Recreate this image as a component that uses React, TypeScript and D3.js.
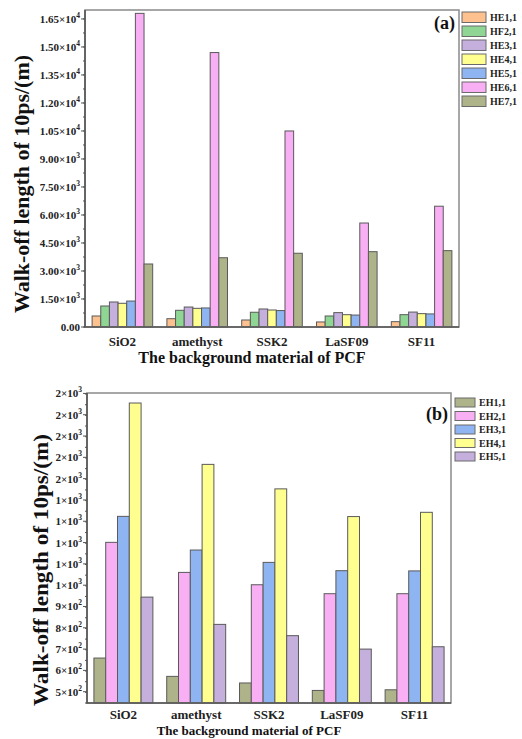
import React, { useEffect, useRef } from 'react';
import * as d3 from 'd3';

// categories on the x axis (both panels)
const categories = ['SiO2', 'amethyst', 'SSK2', 'LaSF09', 'SF11'];

// panel (a) HE modes
const heNames = ['HE1,1', 'HF2,1', 'HE3,1', 'HE4,1', 'HE5,1', 'HE6,1', 'HE7,1'];
const he1 = [590, 445, 375, 270, 285];
const he2 = [1125, 895, 790, 590, 660];
const he3 = [1340, 1070, 965, 770, 800];
const he4 = [1270, 1000, 910, 660, 715];
const he5 = [1390, 1020, 880, 640, 700];
const he6 = [16800, 14700, 10500, 5570, 6470];
const he7 = [3375, 3710, 3950, 4035, 4090];
const heTicks = [0, 1500, 3000, 4500, 6000, 7500, 9000, 10500, 12000, 13500, 15000, 16500];

// panel (b) EH modes
const ehNames = ['EH1,1', 'EH2,1', 'EH3,1', 'EH4,1', 'EH5,1'];
const eh1 = [658, 572, 541, 506, 509];
const eh2 = [1201, 1060, 1002, 960, 960];
const eh3 = [1323, 1165, 1107, 1068, 1067];
const eh4 = [1855, 1567, 1452, 1322, 1342];
const eh5 = [944, 816, 763, 700, 711];
const ehTicks = [500, 600, 700, 800, 900, 1000, 1100, 1200, 1300, 1400, 1500, 1600, 1700, 1800, 1900];

const orange = '#FDC08F';
const green = '#8FD694';
const purple = '#C4AFDD';
const yellow = '#FFFF8F';
const blue = '#8EB4F2';
const pink = '#F8AFF4';
const olive = '#AEB38A';

const FONT = '"Liberation Serif", "Times New Roman", serif';

const App = () => {
  const ref = useRef(null);

  useEffect(() => {
    const svg = d3.select(ref.current);
    svg.selectAll('*').remove();

    const drawPanel = (opt) => {
      const { box, names, series, colors, domain, ticks, minorStep, decimals, tag, legend, titleX, titleY, titleLen } = opt;
      const g = svg.append('g');

      const x = d3.scaleBand().domain(categories).range([box.left, box.right]).paddingInner(0.19).paddingOuter(0.095);
      const xs = d3.scaleBand().domain(names).range([0, x.bandwidth()]);
      const y = d3.scaleLinear().domain(domain).range([box.bottom, box.top]);

      // bars
      names.forEach((nm, si) => {
        g.selectAll(null)
          .data(series[si])
          .enter().append('rect')
          .attr('x', (d, i) => x(categories[i]) + xs(nm))
          .attr('width', xs.bandwidth())
          .attr('y', d => y(d))
          .attr('height', d => box.bottom - y(d))
          .attr('fill', colors[si])
          .attr('stroke', '#5a5a5a')
          .attr('stroke-width', 1);
      });

      // frame
      g.append('rect')
        .attr('x', box.left).attr('y', box.top)
        .attr('width', box.right - box.left).attr('height', box.bottom - box.top)
        .attr('fill', 'none').attr('stroke', '#8a8a8a').attr('stroke-width', 1.5);
      g.append('path')
        .attr('d', `M${box.left},${box.top}V${box.bottom}H${box.right}`)
        .attr('fill', 'none').attr('stroke', '#555').attr('stroke-width', 1.6);

      // minor + major ticks
      const minors = d3.range(domain[0], domain[1], minorStep).filter(v => v >= domain[0]);
      g.selectAll(null).data(minors).enter().append('line')
        .attr('x1', box.left - 2).attr('x2', box.left)
        .attr('y1', d => y(d)).attr('y2', d => y(d))
        .attr('stroke', '#555').attr('stroke-width', 1);
      g.selectAll(null).data(ticks).enter().append('line')
        .attr('x1', box.left - 4).attr('x2', box.left)
        .attr('y1', d => y(d)).attr('y2', d => y(d))
        .attr('stroke', '#555').attr('stroke-width', 1);

      // tick labels with superscript exponent
      ticks.forEach(v => {
        const t = g.append('text')
          .attr('x', box.left - 5).attr('y', y(v) + 4)
          .attr('text-anchor', 'end')
          .attr('font-family', FONT).attr('font-weight', 'bold').attr('font-size', 11)
          .attr('fill', '#222');
        if (v === 0) { t.text('0.00'); return; }
        const e = Math.floor(Math.log10(v));
        const m = (v / Math.pow(10, e)).toFixed(decimals);
        t.append('tspan').text(`${m}×10`);
        t.append('tspan').attr('dy', -5).attr('font-size', 7.5).text(e);
      });

      // category labels
      g.selectAll(null).data(categories).enter().append('text')
        .attr('x', d => x(d) + x.bandwidth() / 2)
        .attr('y', opt.catY)
        .attr('text-anchor', 'middle')
        .attr('font-family', FONT).attr('font-weight', 'bold').attr('font-size', 13)
        .attr('fill', '#222')
        .text(d => d);

      // x title
      g.append('text')
        .attr('x', (box.left + box.right) / 2 - 20).attr('y', opt.xTitleY)
        .attr('text-anchor', 'middle')
        .attr('font-family', FONT).attr('font-weight', 'bold').attr('font-size', opt.xTitleSize)
        .attr('fill', '#111')
        .text('The background material of PCF');

      // y title
      g.append('text')
        .attr('transform', `translate(${titleX},${titleY}) rotate(-90)`)
        .attr('text-anchor', 'middle')
        .attr('font-family', FONT).attr('font-weight', 'bold').attr('font-size', 20)
        .attr('textLength', titleLen).attr('lengthAdjust', 'spacingAndGlyphs')
        .attr('fill', '#111')
        .text('Walk-off length of 10ps/(m)');

      // panel tag
      g.append('text')
        .attr('x', tag.x).attr('y', tag.y)
        .attr('text-anchor', 'end')
        .attr('font-family', FONT).attr('font-weight', 'bold').attr('font-size', 18)
        .attr('fill', '#111')
        .text(tag.text);

      // legend
      const lg = g.append('g').selectAll(null).data(names).enter().append('g')
        .attr('transform', (d, i) => `translate(${legend.x},${legend.y + i * legend.step})`);
      lg.append('rect')
        .attr('width', legend.w).attr('height', legend.h)
        .attr('fill', (d, i) => colors[i])
        .attr('stroke', '#6a6a6a').attr('stroke-width', 1);
      lg.append('text')
        .attr('x', legend.w + 4).attr('y', legend.h / 2 + 3.5)
        .attr('font-family', FONT).attr('font-weight', 'bold').attr('font-size', 10)
        .attr('fill', '#222')
        .text(d => d);
    };

    drawPanel({
      box: { left: 85, right: 459, top: 10, bottom: 327 },
      names: heNames,
      series: [he1, he2, he3, he4, he5, he6, he7],
      colors: [orange, green, purple, yellow, blue, pink, olive],
      domain: [0, 16980],
      ticks: heTicks,
      minorStep: 750,
      decimals: 2,
      tag: { text: '(a)', x: 455, y: 29 },
      legend: { x: 462, y: 12, step: 14, w: 24, h: 10.5 },
      catY: 346,
      xTitleY: 363,
      xTitleSize: 16,
      titleX: 29,
      titleY: 184,
      titleLen: 258,
    });

    drawPanel({
      box: { left: 87, right: 451, top: 393, bottom: 703 },
      names: ehNames,
      series: [eh1, eh2, eh3, eh4, eh5],
      colors: [olive, pink, blue, yellow, purple],
      domain: [447, 1902],
      ticks: ehTicks,
      minorStep: 50,
      decimals: 0,
      tag: { text: '(b)', x: 448, y: 420 },
      legend: { x: 455, y: 398, step: 13.5, w: 20, h: 9 },
      catY: 719,
      xTitleY: 735,
      xTitleSize: 13,
      titleX: 48,
      titleY: 570,
      titleLen: 272,
    });
  }, []);

  return (
    <svg ref={ref} width={522} height={739}
      style={{ position: 'absolute', left: 0, top: 0, background: '#fff' }} />
  );
};

export default App;
